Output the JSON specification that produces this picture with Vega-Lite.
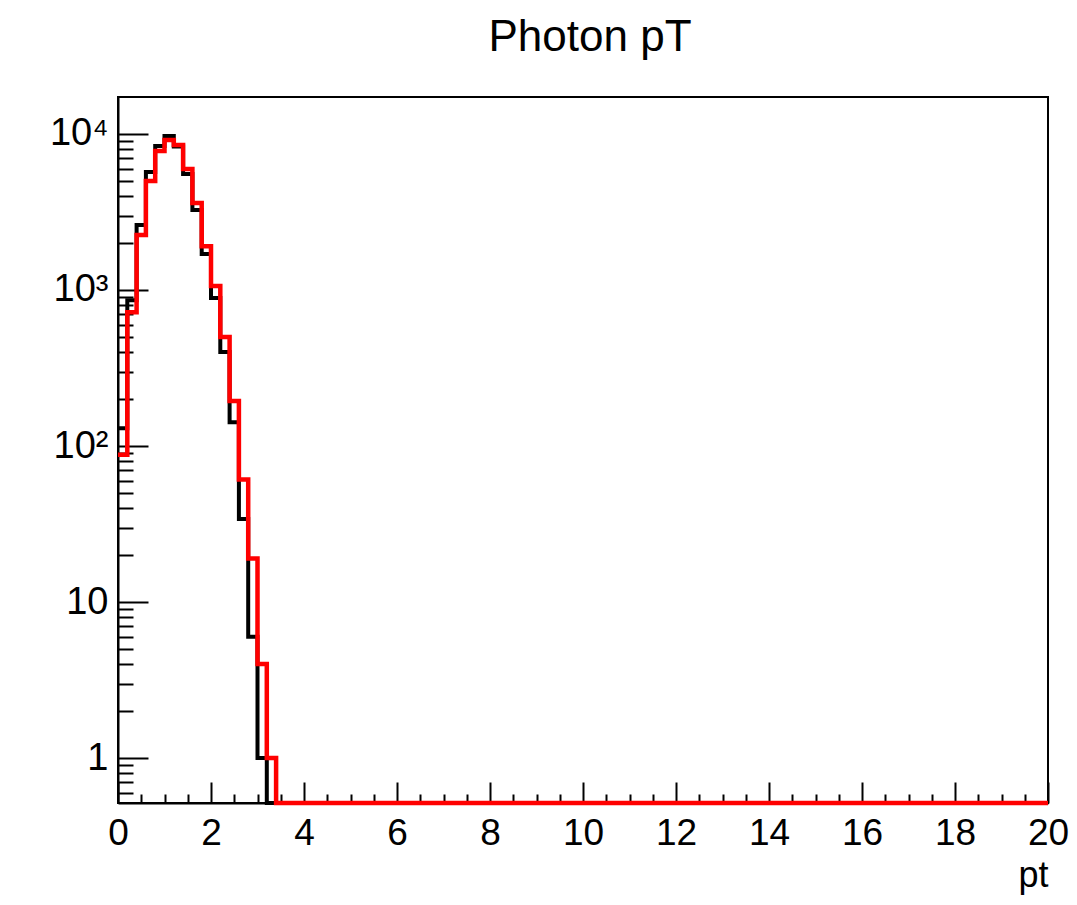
{
  "$schema": "https://vega.github.io/schema/vega-lite/v6.json",
  "autosize": "none",
  "width": 930,
  "height": 706,
  "padding": {"left": 118, "top": 97, "right": 29, "bottom": 102},
  "background": "white",
  "config": {
    "view": {"stroke": "black", "strokeWidth": 2},
    "font": "Liberation Sans"
  },
  "title": {"text": "Photon pT", "fontSize": 44, "font": "Liberation Sans", "fontWeight": "normal", "color": "black", "anchor": "middle", "offset": 37, "dx": 7},
  "datasets": {
    "black": [
      {"x":0,"n":130},{"x":0.2,"n":860},{"x":0.4,"n":2610},{"x":0.6,"n":5700},{"x":0.8,"n":8370},{"x":1,"n":9700},{"x":1.2,"n":8300},{"x":1.4,"n":5540},{"x":1.6,"n":3260},{"x":1.8,"n":1700},{"x":2,"n":890},{"x":2.2,"n":400},{"x":2.4,"n":142},{"x":2.6,"n":34},{"x":2.8,"n":6},{"x":3,"n":1},{"x":3.2,"n":0},{"x":3.4,"n":0},{"x":3.6,"n":0},{"x":3.8,"n":0},
      {"x":4,"n":0},{"x":4.2,"n":0},{"x":4.4,"n":0},{"x":4.6,"n":0},{"x":4.8,"n":0},{"x":5,"n":0},{"x":5.2,"n":0},{"x":5.4,"n":0},{"x":5.6,"n":0},{"x":5.8,"n":0},
      {"x":6,"n":0},{"x":6.2,"n":0},{"x":6.4,"n":0},{"x":6.6,"n":0},{"x":6.8,"n":0},{"x":7,"n":0},{"x":7.2,"n":0},{"x":7.4,"n":0},{"x":7.6,"n":0},{"x":7.8,"n":0},
      {"x":8,"n":0},{"x":8.2,"n":0},{"x":8.4,"n":0},{"x":8.6,"n":0},{"x":8.8,"n":0},{"x":9,"n":0},{"x":9.2,"n":0},{"x":9.4,"n":0},{"x":9.6,"n":0},{"x":9.8,"n":0},
      {"x":10,"n":0},{"x":10.2,"n":0},{"x":10.4,"n":0},{"x":10.6,"n":0},{"x":10.8,"n":0},{"x":11,"n":0},{"x":11.2,"n":0},{"x":11.4,"n":0},{"x":11.6,"n":0},{"x":11.8,"n":0},
      {"x":12,"n":0},{"x":12.2,"n":0},{"x":12.4,"n":0},{"x":12.6,"n":0},{"x":12.8,"n":0},{"x":13,"n":0},{"x":13.2,"n":0},{"x":13.4,"n":0},{"x":13.6,"n":0},{"x":13.8,"n":0},
      {"x":14,"n":0},{"x":14.2,"n":0},{"x":14.4,"n":0},{"x":14.6,"n":0},{"x":14.8,"n":0},{"x":15,"n":0},{"x":15.2,"n":0},{"x":15.4,"n":0},{"x":15.6,"n":0},{"x":15.8,"n":0},
      {"x":16,"n":0},{"x":16.2,"n":0},{"x":16.4,"n":0},{"x":16.6,"n":0},{"x":16.8,"n":0},{"x":17,"n":0},{"x":17.2,"n":0},{"x":17.4,"n":0},{"x":17.6,"n":0},{"x":17.8,"n":0},
      {"x":18,"n":0},{"x":18.2,"n":0},{"x":18.4,"n":0},{"x":18.6,"n":0},{"x":18.8,"n":0},{"x":19,"n":0},{"x":19.2,"n":0},{"x":19.4,"n":0},{"x":19.6,"n":0},{"x":19.8,"n":0},
      {"x":20,"n":0}
    ],
    "red": [
      {"x":0,"n":88},{"x":0.2,"n":720},{"x":0.4,"n":2250},{"x":0.6,"n":5000},{"x":0.8,"n":7780},{"x":1,"n":9160},{"x":1.2,"n":8500},{"x":1.4,"n":5970},{"x":1.6,"n":3610},{"x":1.8,"n":1910},{"x":2,"n":1060},{"x":2.2,"n":500},{"x":2.4,"n":194},{"x":2.6,"n":61},{"x":2.8,"n":19},{"x":3,"n":4},{"x":3.2,"n":1},{"x":3.4,"n":0},{"x":3.6,"n":0},{"x":3.8,"n":0},
      {"x":4,"n":0},{"x":4.2,"n":0},{"x":4.4,"n":0},{"x":4.6,"n":0},{"x":4.8,"n":0},{"x":5,"n":0},{"x":5.2,"n":0},{"x":5.4,"n":0},{"x":5.6,"n":0},{"x":5.8,"n":0},
      {"x":6,"n":0},{"x":6.2,"n":0},{"x":6.4,"n":0},{"x":6.6,"n":0},{"x":6.8,"n":0},{"x":7,"n":0},{"x":7.2,"n":0},{"x":7.4,"n":0},{"x":7.6,"n":0},{"x":7.8,"n":0},
      {"x":8,"n":0},{"x":8.2,"n":0},{"x":8.4,"n":0},{"x":8.6,"n":0},{"x":8.8,"n":0},{"x":9,"n":0},{"x":9.2,"n":0},{"x":9.4,"n":0},{"x":9.6,"n":0},{"x":9.8,"n":0},
      {"x":10,"n":0},{"x":10.2,"n":0},{"x":10.4,"n":0},{"x":10.6,"n":0},{"x":10.8,"n":0},{"x":11,"n":0},{"x":11.2,"n":0},{"x":11.4,"n":0},{"x":11.6,"n":0},{"x":11.8,"n":0},
      {"x":12,"n":0},{"x":12.2,"n":0},{"x":12.4,"n":0},{"x":12.6,"n":0},{"x":12.8,"n":0},{"x":13,"n":0},{"x":13.2,"n":0},{"x":13.4,"n":0},{"x":13.6,"n":0},{"x":13.8,"n":0},
      {"x":14,"n":0},{"x":14.2,"n":0},{"x":14.4,"n":0},{"x":14.6,"n":0},{"x":14.8,"n":0},{"x":15,"n":0},{"x":15.2,"n":0},{"x":15.4,"n":0},{"x":15.6,"n":0},{"x":15.8,"n":0},
      {"x":16,"n":0},{"x":16.2,"n":0},{"x":16.4,"n":0},{"x":16.6,"n":0},{"x":16.8,"n":0},{"x":17,"n":0},{"x":17.2,"n":0},{"x":17.4,"n":0},{"x":17.6,"n":0},{"x":17.8,"n":0},
      {"x":18,"n":0},{"x":18.2,"n":0},{"x":18.4,"n":0},{"x":18.6,"n":0},{"x":18.8,"n":0},{"x":19,"n":0},{"x":19.2,"n":0},{"x":19.4,"n":0},{"x":19.6,"n":0},{"x":19.8,"n":0},
      {"x":20,"n":0}
    ]
  },
  "resolve": {"axis": {"x": "independent", "y": "independent"}},
  "layer": [
    {
      "data": {"name": "black"},
      "mark": {"type": "line", "interpolate": "step-after", "color": "black", "strokeWidth": 4, "invalid": "show", "clip": false},
      "encoding": {
        "x": {"field": "x", "type": "quantitative",
          "scale": {"domain": [0, 20], "nice": false, "zero": false},
          "axis": {"orient": "bottom", "values": [0,2,4,6,8,10,12,14,16,18,20], "tickSize": -21, "tickWidth": 2, "tickColor": "black",
            "domainColor": "black", "domainWidth": 2, "grid": false,
            "labelFontSize": 37, "labelFont": "Liberation Sans", "labelColor": "black", "labelPadding": 33, "labelFlush": false, "labelOverlap": false,
            "title": "pt", "titleAnchor": "end", "titleAlign": "right", "titleFontSize": 36, "titleFont": "Liberation Sans", "titleFontWeight": "normal", "titleColor": "black", "titlePadding": 7}},
        "y": {"field": "n", "type": "quantitative",
          "scale": {"type": "log", "domain": [0.515, 17260], "nice": false, "clamp": true},
          "axis": {"orient": "left", "values": [1, 10, 100, 1000, 10000], "tickSize": -30, "tickWidth": 2, "tickColor": "black",
            "domainColor": "black", "domainWidth": 2, "grid": false,
            "labelExpr": "datum.value == 10000 ? '10⁴' : datum.value == 1000 ? '10³' : datum.value == 100 ? '10²' : datum.value == 10 ? '10' : '1'",
            "labelFontSize": 38, "labelFont": "Liberation Sans", "labelColor": "black", "labelPadding": 40, "labelFlush": false, "labelOverlap": false,
            "title": null}}
      }
    },
    {
      "data": {"name": "red"},
      "mark": {"type": "line", "interpolate": "step-after", "color": "#ff0000", "strokeWidth": 4.5, "invalid": "show", "clip": false},
      "encoding": {
        "x": {"field": "x", "type": "quantitative",
          "scale": {"domain": [0, 20], "nice": false, "zero": false},
          "axis": {"orient": "bottom", "values": [0.5,1,1.5,2.5,3,3.5,4.5,5,5.5,6.5,7,7.5,8.5,9,9.5,10.5,11,11.5,12.5,13,13.5,14.5,15,15.5,16.5,17,17.5,18.5,19,19.5],
            "tickSize": -9, "tickWidth": 2, "tickColor": "black", "domain": false, "labels": false, "grid": false, "title": null}},
        "y": {"field": "n", "type": "quantitative",
          "scale": {"type": "log", "domain": [0.515, 17260], "nice": false, "clamp": true},
          "axis": {"orient": "left", "values": [0.6,0.7,0.8,0.9,2,3,4,5,6,7,8,9,20,30,40,50,60,70,80,90,200,300,400,500,600,700,800,900,2000,3000,4000,5000,6000,7000,8000,9000],
            "tickSize": -15, "tickWidth": 2, "tickColor": "black", "domain": false, "labels": false, "grid": false, "title": null}}
      }
    }
  ]
}
